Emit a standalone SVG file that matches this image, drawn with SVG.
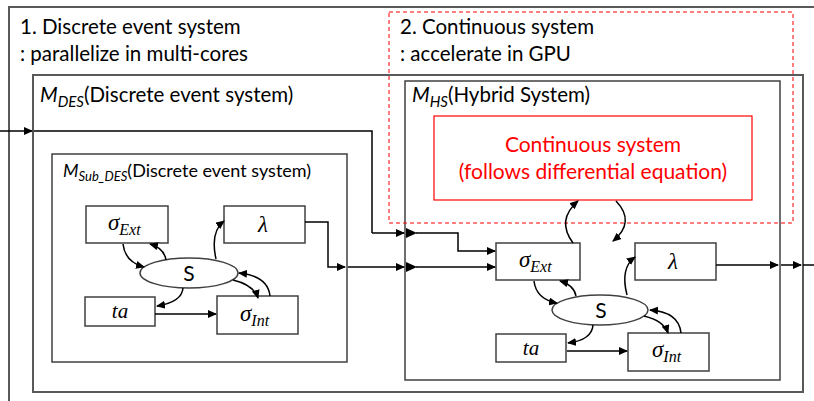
<svg xmlns="http://www.w3.org/2000/svg" width="814" height="401" viewBox="0 0 814 401">
<defs>
<marker id="ah" markerWidth="9" markerHeight="8" refX="8" refY="4" orient="auto" markerUnits="userSpaceOnUse">
<path d="M0,0 L9,4 L0,8 Z" fill="#000"/>
</marker>
<style>
.box{fill:#fff;stroke:#404040;stroke-width:1.5}
.frame{fill:none;stroke:#595959;stroke-width:2}
.ln{fill:none;stroke:#000;stroke-width:1.5}
.arr{fill:none;stroke:#000;stroke-width:1.5;marker-end:url(#ah)}
.t{font-family:Lato,"Open Sans",sans-serif;fill:#000}
.m{font-family:"Liberation Serif","DejaVu Serif",serif;font-style:italic;fill:#000}
.red{font-family:Lato,"Open Sans",sans-serif;fill:#ff0000}
</style>
</defs>
<rect width="814" height="401" fill="#fff"/>

<g id="outer">
<rect x="9" y="7" width="820" height="420" class="frame"/>
</g>
<g id="titles">
<text class="t" x="20" y="34" font-size="20.5">1. Discrete event system</text>
<text class="t" x="20" y="61" font-size="20.5">: parallelize in multi-cores</text>
<text class="t" x="400" y="34" font-size="20.5">2. Continuous system</text>
<text class="t" x="400" y="61" font-size="20.5">: accelerate in GPU</text>
</g>

<g id="M_DES">
<rect x="33" y="75" width="770" height="317" class="frame"/>
<text class="t" x="40" y="102" font-size="20.5"><tspan font-style="italic">M</tspan><tspan font-style="italic" font-size="15" dy="5">DES</tspan><tspan dy="-5">(Discrete event system)</tspan></text>
</g>

<g id="M_Sub_DES">
<rect x="52" y="154" width="295" height="208" class="box"/>
<text class="t" x="63" y="177" font-size="18"><tspan font-style="italic">M</tspan><tspan font-style="italic" font-size="13" dy="4">Sub_DES</tspan><tspan dy="-4">(Discrete event system)</tspan></text>
</g>

<g id="M_HS">
<rect x="405" y="81" width="375" height="299" class="box"/>
<text class="t" x="412" y="102" font-size="20.5"><tspan font-style="italic">M</tspan><tspan font-style="italic" font-size="15" dy="5">HS</tspan><tspan dy="-5">(Hybrid System)</tspan></text>
</g>

<g id="gpu_region">
<rect x="389" y="12" width="404" height="211" fill="none" stroke="#ff0000" stroke-width="1" stroke-dasharray="4,3"/>
</g>

<g id="continuous">
<rect x="434" y="116" width="318" height="84" fill="#fff" stroke="#ff0000" stroke-width="1.2"/>
<text class="red" x="593" y="152" font-size="21" text-anchor="middle">Continuous system</text>
<text class="red" x="593" y="179" font-size="21" text-anchor="middle">(follows differential equation)</text>
</g>

<g id="L_sigmaExt">
<rect x="86" y="206" width="82" height="37" class="box"/>
<text class="m" x="108" y="230" font-size="23">σ<tspan font-size="16" dy="5">Ext</tspan></text>
</g>
<g id="L_lambda">
<rect x="224" y="206" width="81" height="37" class="box"/>
<text class="m" x="263" y="232" font-size="23" text-anchor="middle">λ</text>
</g>
<g id="L_S">
<ellipse cx="189" cy="273" rx="49" ry="15" class="box"/>
<text class="t" x="189" y="281" font-size="21" text-anchor="middle">S</text>
</g>
<g id="L_ta">
<rect x="85" y="297" width="70" height="29" class="box"/>
<text class="m" x="120" y="318" font-size="21" text-anchor="middle">ta</text>
</g>
<g id="L_sigmaInt">
<rect x="217" y="296" width="81" height="38" class="box"/>
<text class="m" x="240" y="321" font-size="23">σ<tspan font-size="16" dy="5">Int</tspan></text>
</g>

<g id="R_sigmaExt">
<rect x="496" y="243" width="84" height="37" class="box"/>
<text class="m" x="519" y="267" font-size="23">σ<tspan font-size="16" dy="5">Ext</tspan></text>
</g>
<g id="R_lambda">
<rect x="635" y="243" width="81" height="37" class="box"/>
<text class="m" x="673" y="269" font-size="23" text-anchor="middle">λ</text>
</g>
<g id="R_S">
<ellipse cx="600" cy="310" rx="48" ry="15" class="box"/>
<text class="t" x="601" y="318" font-size="21" text-anchor="middle">S</text>
</g>
<g id="R_ta">
<rect x="496" y="334" width="70" height="28" class="box"/>
<text class="m" x="531" y="355" font-size="21" text-anchor="middle">ta</text>
</g>
<g id="R_sigmaInt">
<rect x="628" y="333" width="81" height="38" class="box"/>
<text class="m" x="652" y="357" font-size="23">σ<tspan font-size="16" dy="5">Int</tspan></text>
</g>

<g id="connectors">
<path class="arr" d="M0,131 L32,131"/>
<path class="ln" d="M34,131 L372,131 L372,233"/>
<path class="arr" d="M372,233 L404,233"/>
<path class="arr" d="M416,233 L458,233 L458,251 L495,251"/>
<path class="arr" d="M305,222 L328,222 L328,267 L345,267"/>
<path class="arr" d="M348,267 L404,267"/>
<path class="arr" d="M416,267 L495,267"/>
<polygon points="406,228 417,233 406,238" fill="#000"/>
<polygon points="406,262 417,267 406,272" fill="#000"/>
<path class="arr" d="M716,265 L778,265"/>
<path class="arr" d="M781,265 L801,265"/>
<path class="ln" d="M803,265 L814,265"/>

<path class="arr" d="M123,244 Q125,262 144,267"/>
<path class="arr" d="M166,260 Q164,248 150,244"/>
<path class="arr" d="M216,259 Q210,232 224,221"/>
<path class="arr" d="M183,288 Q182,302 157,306"/>
<path class="arr" d="M233,280 Q254,285 258,298"/>
<path class="arr" d="M270,296 Q268,276 239,273"/>
<path class="arr" d="M155,314 L216,314"/>

<path class="arr" d="M534,281 Q536,299 557,303"/>
<path class="arr" d="M576,296 Q574,285 560,281"/>
<path class="arr" d="M627,295 Q620,268 635,257"/>
<path class="arr" d="M593,325 Q592,340 568,343"/>
<path class="arr" d="M644,316 Q664,321 668,333"/>
<path class="arr" d="M681,333 Q679,312 650,310"/>
<path class="arr" d="M567,351 L627,351"/>
<path class="arr" d="M573,243 Q556,220 578,201"/>
<path class="arr" d="M616,201 Q636,222 613,241"/>
</g>
</svg>
